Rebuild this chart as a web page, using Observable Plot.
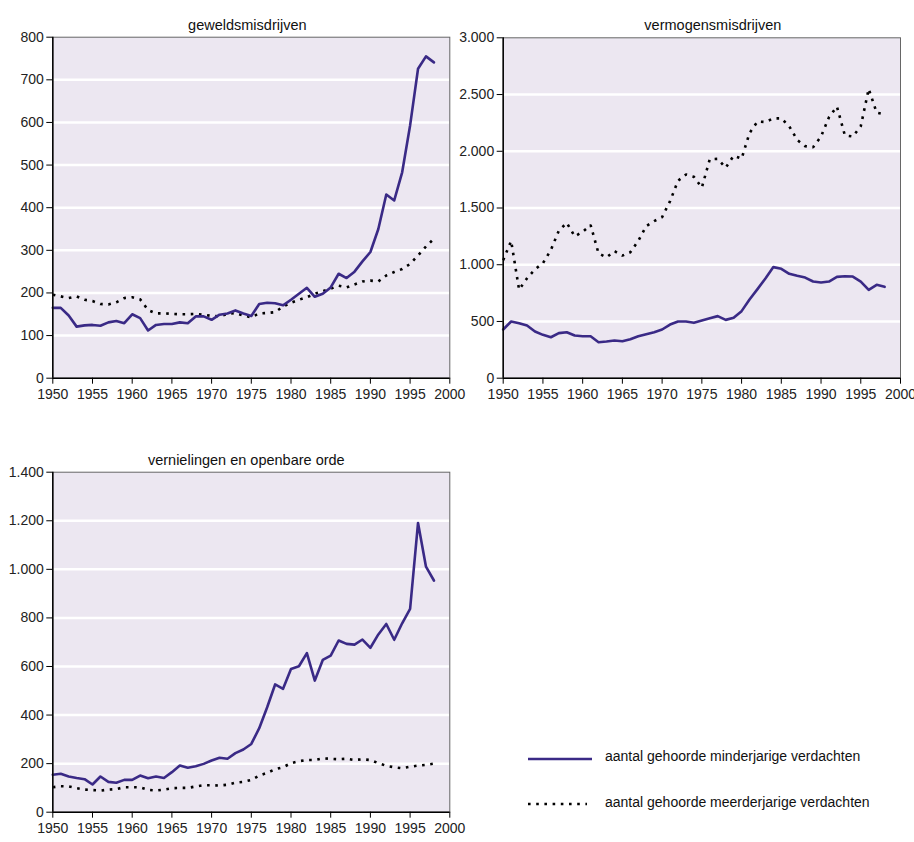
<!DOCTYPE html>
<html><head><meta charset="utf-8">
<script src="https://cdn.jsdelivr.net/npm/d3@7"></script>
<script src="https://cdn.jsdelivr.net/npm/@observablehq/plot@0.6"></script>
<style>
body{margin:0;background:#fff;font-family:"Liberation Sans",Arial,sans-serif;}
#root{position:relative;width:914px;height:842px;overflow:hidden;background:#fff;}
.panel{position:absolute;}
</style></head><body><div id="root"></div>
<script>
const years = d3.range(1950, 1999);
const xTickYears = d3.range(1950, 2001, 5);

const titles = ["geweldsmisdrijven", "vermogensmisdrijven", "vernielingen en openbare orde"];
const legendLabels = ["aantal gehoorde minderjarige verdachten", "aantal gehoorde meerderjarige verdachten"];

const geweldMinder = [165,165,147,121,124,125,123,131,134,129,
  150,141,112,125,127,127,131,129,145,145,
  137,149,152,159,152,146,174,177,176,171,
  184,198,212,191,198,213,245,235,250,274,
  296,350,431,417,483,593,726,755,741];
const geweldMeerder = [196,192,188,192,184,181,174,173,178,188,
  190,185,160,152,152,151,150,150,151,149,
  146,145,151,153,147,143,152,153,155,168,
  177,184,190,198,204,210,217,213,220,227,
  229,227,241,249,256,268,288,309,327];
const vermogenMinder = [429,500,485,464,411,382,361,397,405,376,
  370,370,317,323,332,326,344,370,388,405,
  429,473,500,500,488,508,529,547,514,532,
  591,694,785,879,979,964,920,902,887,852,
  843,852,893,899,896,852,779,823,805];
const vermogenMeerder = [1040,1210,780,880,960,1014,1130,1300,1370,1250,
  1290,1350,1100,1065,1120,1080,1110,1210,1340,1385,
  1420,1560,1740,1795,1775,1680,1930,1933,1855,1960,
  1935,2160,2262,2258,2290,2290,2220,2100,2045,2036,
  2130,2300,2394,2140,2130,2220,2550,2340,2325];
const vernielMinder = [154,158,147,141,136,114,147,125,121,133,
  133,151,140,147,141,165,192,183,189,199,
  213,224,220,243,258,281,346,432,526,508,
  590,601,655,542,627,645,707,693,690,711,
  677,732,775,710,778,837,1191,1011,954];
const vernielMeerder = [103,107,106,99,93,91,89,93,95,103,
  103,102,92,89,93,99,100,100,106,111,
  111,110,113,122,125,133,151,162,177,185,
  202,210,215,215,222,220,218,220,215,218,
  215,202,191,185,181,187,192,195,200];

const yTicks1 = d3.range(0, 801, 100);
const yTicks2 = d3.range(0, 3001, 500);
const yTicks3 = d3.range(0, 1401, 200);

const PURPLE = "#3A2A86";
const BG = "#ECE7F1";
const FONT = "'Liberation Sans', Arial, sans-serif";
const nl = d3.formatLocale({decimal: ",", thousands: ".", grouping: [3], currency: ["€", ""]});
const fmt = nl.format(",d");

const root = document.getElementById("root");

function panel(cfg) {
  const data = years.map((y, i) => ({year: y, minder: cfg.minder[i], meerder: cfg.meerder[i]}));
  const yMax = cfg.yTicks[cfg.yTicks.length - 1];
  const chart = Plot.plot({
    width: cfg.width, height: cfg.height,
    marginLeft: cfg.mL, marginRight: cfg.mR, marginTop: cfg.mT, marginBottom: cfg.mB,
    style: {fontFamily: FONT, fontSize: "14px", color: "#222", background: "transparent", overflow: "visible"},
    x: {domain: [1950, 2000], label: null},
    y: {domain: [0, yMax], label: null},
    marks: [
      Plot.frame({fill: BG, stroke: null}),
      Plot.ruleY(cfg.yTicks.filter(d => d > 0 && d < yMax), {stroke: "white", strokeWidth: 2.5}),
      Plot.line(data, {x: "year", y: "meerder", stroke: "#000", strokeWidth: 2.6, strokeDasharray: "2.6,5.6", strokeLinecap: "butt", strokeLinejoin: "miter"}),
      Plot.line(data, {x: "year", y: "minder", stroke: PURPLE, strokeWidth: 2.6}),
      Plot.frame({stroke: "#666", strokeWidth: 1}),
      Plot.axisY({ticks: cfg.yTicks, tickFormat: fmt, tickSize: 6, tickPadding: 3, stroke: "#000", fontSize: 14, label: null}),
      Plot.axisX({ticks: xTickYears, tickFormat: d => String(d), tickSize: 6, tickPadding: 5, stroke: "#000", fontSize: 14, label: null}),
      Plot.ruleX([1950], {stroke: "#000", strokeWidth: 1.5}),
      Plot.ruleY([0], {stroke: "#000", strokeWidth: 1.5}),
      Plot.text([cfg.title], {text: d => d, frameAnchor: "top", dy: cfg.titleDy, dx: cfg.titleDx, fontSize: 14.5, fill: "#111"})
    ]
  });
  chart.classList.add("panel");
  chart.style.left = cfg.left + "px";
  chart.style.top = cfg.top + "px";
  root.appendChild(chart);
}

panel({title: titles[0], minder: geweldMinder, meerder: geweldMeerder, yTicks: yTicks1,
  left: 0, top: 0, width: 460, height: 400, mL: 52.3, mR: 10.7, mT: 36.7, mB: 22.3, titleDy: -17.5, titleDx: -4});
panel({title: titles[1], minder: vermogenMinder, meerder: vermogenMeerder, yTicks: yTicks2,
  left: 455, top: 0, width: 459, height: 400, mL: 47.7, mR: 14, mT: 37.3, mB: 22.3, titleDy: -18, titleDx: 11});
panel({title: titles[2], minder: vernielMinder, meerder: vernielMeerder, yTicks: yTicks3,
  left: 0, top: 430, width: 460, height: 412, mL: 52.3, mR: 10.7, mT: 41.7, mB: 30.3, titleDy: -17, titleDx: -5});

// legend
const lg = d3.select(root).append("svg")
  .attr("class", "panel")
  .style("left", "500px").style("top", "730px")
  .attr("width", 414).attr("height", 100)
  .style("font-family", FONT);
lg.append("line").attr("x1", 28).attr("x2", 92).attr("y1", 29).attr("y2", 29)
  .attr("stroke", PURPLE).attr("stroke-width", 2.6);
lg.append("line").attr("x1", 28).attr("x2", 87).attr("y1", 74).attr("y2", 74)
  .attr("stroke", "#000").attr("stroke-width", 2.6).attr("stroke-dasharray", "2.6,5.6");
lg.append("text").attr("x", 105).attr("y", 26).attr("dy", "0.35em").attr("font-size", 14).attr("fill", "#111").text(legendLabels[0]);
lg.append("text").attr("x", 105).attr("y", 72).attr("dy", "0.35em").attr("font-size", 14).attr("fill", "#111").text(legendLabels[1]);
</script>
</body></html>
